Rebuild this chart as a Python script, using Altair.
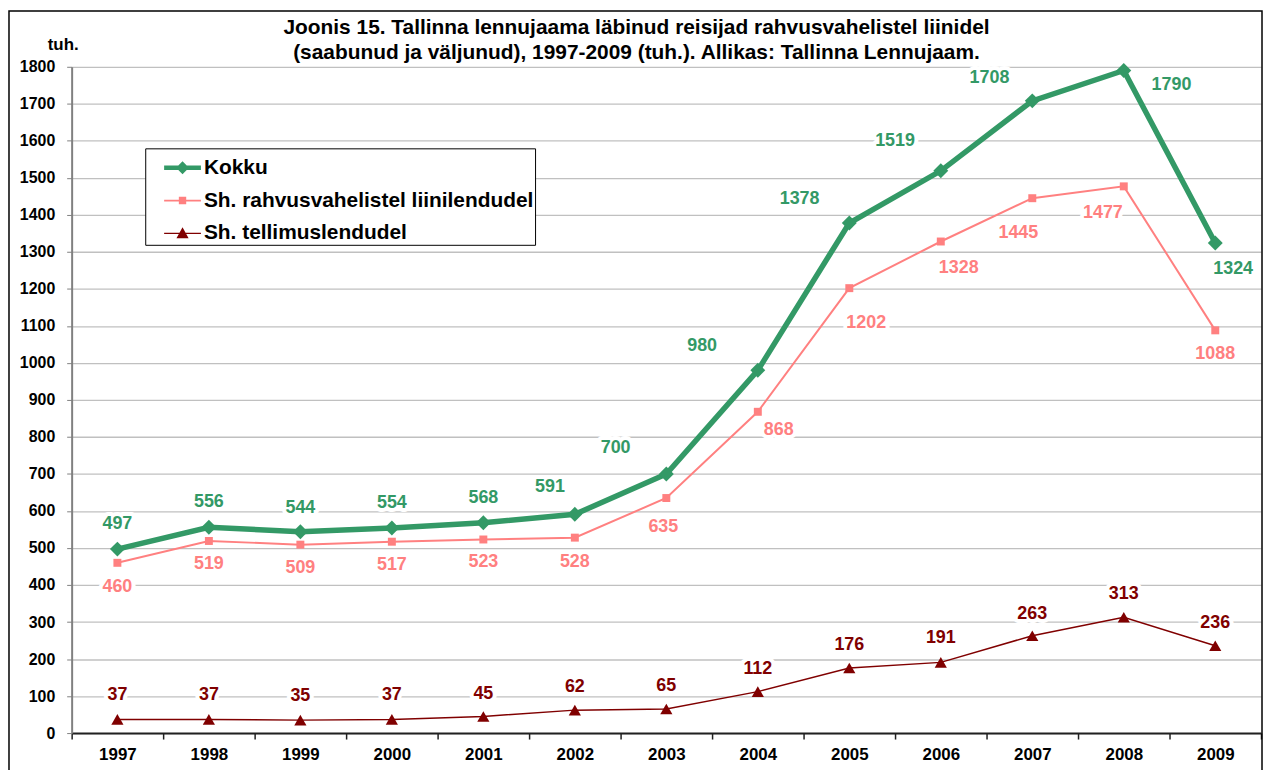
import altair as alt
import pandas as pd

# ---- data ----
YEARS = ["1997", "1998", "1999", "2000", "2001", "2002", "2003",
         "2004", "2005", "2006", "2007", "2008", "2009"]
KOKKU = [497, 556, 544, 554, 568, 591, 700, 980, 1378, 1519, 1708, 1790, 1324]
RAHV = [460, 519, 509, 517, 523, 528, 635, 868, 1202, 1328, 1445, 1477, 1088]
TELL = [37, 37, 35, 37, 45, 62, 65, 112, 176, 191, 263, 313, 236]
SERIES = ["Kokku", "Sh. rahvusvahelistel liinilendudel", "Sh. tellimuslendudel"]
TITLE = ["Joonis 15. Tallinna lennujaama läbinud reisijad rahvusvahelistel liinidel",
         "(saabunud ja väljunud), 1997-2009 (tuh.). Allikas:  Tallinna Lennujaam."]
Y_TICKS = [0, 100, 200, 300, 400, 500, 600, 700, 800, 900,
           1000, 1100, 1200, 1300, 1400, 1500, 1600, 1700, 1800]

# ---- layout / style (label offsets in pixels) ----
KOKKU_DX = [0, 0, 0, 0, 0, -25, -51, -56, -50, -46, -43, 48, 18]
KOKKU_DY = [-25, -25, -24, -25, -25, -27, -26, -24, -24, -30, -23, 15, 26]
RAHV_DX = [0, 0, 0, 0, 0, 0, -3, 21, 17, 18, -14, -21, 0]
RAHV_DY = [24, 23, 23, 23, 23, 25, 29, 18, 35, 27, 35, 27, 24]
TELL_DX = [0] * 13
TELL_DY = [-24, -24, -24, -24, -23, -23, -23, -23, -23, -24, -22, -23, -23]

COLORS = ["#339966", "#FF8080", "#800000"]
LINE_W = [5.5, 2, 1.5]
SHAPES = ["diamond", "square", "triangle-up"]
SIZES = [225, 64, 150]
LEGEND_PATHS = [
    "M-1,-0.12 L1,-0.12 L1,0.12 L-1,0.12 Z M0,-0.35 L0.35,0 L0,0.35 L-0.35,0 Z",
    "M-1,-0.05 L1,-0.05 L1,0.05 L-1,0.05 Z M-0.2,-0.2 L0.2,-0.2 L0.2,0.2 L-0.2,0.2 Z",
    "M-1,-0.03 L1,-0.03 L1,0.03 L-1,0.03 Z M0,-0.33 L0.33,0.26 L-0.33,0.26 Z",
]

FONT = "Liberation Sans"
W, H = 1196, 670

rows = []
for s, vals, dxs, dys in zip(SERIES, [KOKKU, RAHV, TELL],
                             [KOKKU_DX, RAHV_DX, TELL_DX], [KOKKU_DY, RAHV_DY, TELL_DY]):
    for i, yr in enumerate(YEARS):
        rows.append({"year": yr, "series": s, "value": vals[i], "dx": dxs[i], "dy": dys[i]})
df = pd.DataFrame(rows)

x_enc = alt.X("year:O", title=None, sort=YEARS,
              scale=alt.Scale(paddingInner=0, paddingOuter=0),
              axis=alt.Axis(labelAngle=0, tickBand="extent", grid=False,
                            domainColor="#202020", domainWidth=2,
                            tickColor="#202020", tickWidth=1.5, tickSize=6,
                            labelFont=FONT, labelFontSize=17, labelFontWeight="bold",
                            labelColor="black", labelPadding=8))
y_enc = alt.Y("value:Q", scale=alt.Scale(domain=[0, 1800], nice=False, zero=True),
              axis=alt.Axis(values=Y_TICKS, format="d", title="tuh.", titleAngle=0,
                            titleX=-9, titleY=-22, titleAlign="center",
                            titleBaseline="middle", titleFont=FONT, titleFontSize=17,
                            titleFontWeight="bold", titleColor="black",
                            grid=True, gridColor="#c0c0c0", gridWidth=1.3,
                            domainColor="#808080", domainWidth=2,
                            tickColor="#808080", tickSize=5,
                            labelFont=FONT, labelFontSize=16, labelFontWeight="bold",
                            labelColor="black", labelPadding=12))

base = alt.Chart(df)
layers = []
for s, c, lw, shp, sz in zip(SERIES, COLORS, LINE_W, SHAPES, SIZES):
    b = base.transform_filter(alt.datum.series == s)
    layers.append(b.mark_line(color=c, strokeWidth=lw).encode(x=x_enc, y=y_enc))
    layers.append(b.mark_point(color=c, filled=True, opacity=1, shape=shp, size=sz)
                  .encode(x=x_enc, y=y_enc))

for s, c in zip(SERIES, COLORS):
    b = base.transform_filter(alt.datum.series == s)
    layers.append(b.mark_text(font=FONT, fontSize=18, fontWeight="bold", color="white",
                              stroke="white", strokeWidth=8, strokeJoin="round",
                              dx=alt.expr("datum.dx"), dy=alt.expr("datum.dy"))
                  .encode(x=x_enc, y=y_enc, text="value:Q"))
    layers.append(b.mark_text(font=FONT, fontSize=18, fontWeight="bold", color=c,
                              dx=alt.expr("datum.dx"), dy=alt.expr("datum.dy"))
                  .encode(x=x_enc, y=y_enc, text="value:Q"))

legend_props = dict(orient="none", legendX=74, legendY=82, title=None,
                    strokeColor="black", fillColor="white", padding=1,
                    symbolOffset=18,
                    labelFont=FONT, labelFontSize=21, labelFontWeight="bold",
                    labelColor="black", symbolSize=1369, rowPadding=4,
                    labelOffset=3, labelLimit=0, symbolStrokeWidth=0)
leg = (alt.Chart(pd.DataFrame({"series": SERIES}))
       .transform_filter("false")
       .mark_point(filled=True, opacity=1)
       .encode(shape=alt.Shape("series:N", sort=SERIES,
                               scale=alt.Scale(domain=SERIES, range=LEGEND_PATHS),
                               legend=alt.Legend(**legend_props)),
               color=alt.Color("series:N", sort=SERIES,
                               scale=alt.Scale(domain=SERIES, range=COLORS),
                               legend=alt.Legend(**legend_props))))

frame = (alt.Chart(pd.DataFrame({"a": [0]}))
         .mark_rect(fillOpacity=0, stroke="black", strokeWidth=1.5)
         .encode(x=alt.value(-63), x2=alt.value(W + 1),
                 y=alt.value(-56), y2=alt.value(H + 80)))

chart = (alt.layer(frame, *layers, leg)
         .properties(width=W, height=H,
                     autosize=alt.AutoSizeParams(type="none"),
                     padding={"left": 64, "top": 57, "right": 2, "bottom": 35},
                     title=alt.TitleParams(text=TITLE, font=FONT, fontSize=21,
                                           fontWeight="bold", color="black",
                                           anchor="middle", frame="group",
                                           dx=-30, offset=-53, lineHeight=25))
         .configure_view(strokeWidth=0))

chart.save("out.html", embed_options={"renderer": "svg", "actions": False})
